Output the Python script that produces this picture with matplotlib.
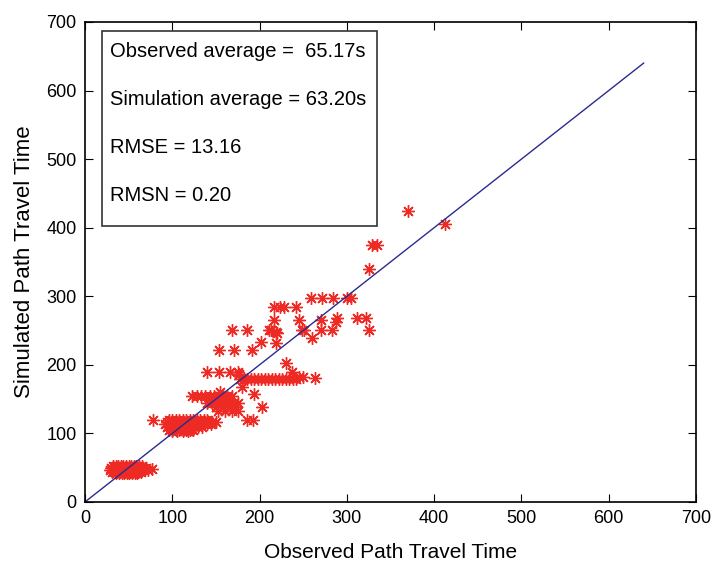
import matplotlib
matplotlib.use('Agg')
import matplotlib.pyplot as plt
from matplotlib.patches import Rectangle

plt.rcParams['font.family'] = ['Liberation Sans', 'DejaVu Sans']

# observed vs simulated path travel times (s)
obs_a = [32, 35, 38, 41, 44, 47, 50, 53, 56, 59, 62, 65,
         30, 34, 37, 40, 43, 46, 49, 52, 55, 58, 61, 64, 67, 70,
         29, 32, 35, 38, 41, 44, 47, 50, 53, 56, 59, 62, 65, 68, 72,
         31, 34, 37, 40, 43, 46, 49, 52, 55, 58, 61, 64,
         35, 39, 42, 45, 48, 51, 54, 57, 60, 77]
sim_a = [52, 52, 52, 52, 52, 52, 52, 52, 52, 52, 52, 52,
         50, 50, 50, 50, 50, 50, 50, 50, 50, 50, 50, 50, 50, 50,
         47, 47, 47, 47, 47, 47, 47, 47, 47, 47, 47, 47, 47, 47, 47,
         44, 44, 44, 44, 44, 44, 44, 44, 44, 44, 44, 44,
         42, 42, 42, 42, 42, 42, 42, 42, 42, 48]

obs_b = [78, 96, 100, 104, 108, 112, 116, 120, 124, 128, 132, 136, 140, 186, 192,
         94, 98, 102, 106, 110, 114, 118, 122, 126, 130, 134, 138, 142, 146, 150,
         92, 96, 100, 104, 108, 112, 116, 120, 124, 128, 132, 136, 140, 144,
         94, 98, 102, 106, 110, 114, 118, 122, 126, 130, 134,
         96, 100, 104, 108, 112, 116, 120, 124, 100, 106, 112, 118]
sim_b = [120, 120, 120, 120, 120, 120, 120, 120, 120, 120, 120, 120, 120, 120, 120,
         117, 117, 117, 117, 117, 117, 117, 117, 117, 117, 117, 117, 117, 117, 117,
         113, 113, 113, 113, 113, 113, 113, 113, 113, 113, 113, 113, 113, 113,
         109, 109, 109, 109, 109, 109, 109, 109, 109, 109, 109,
         105, 105, 105, 105, 105, 105, 105, 105, 103, 103, 103, 103]

obs_c = [123, 128, 133, 138, 143, 148, 153, 158, 163, 168, 155,
         140, 146, 150, 155, 160, 165, 170, 175, 150, 158, 166, 172,
         152, 160, 168, 175, 180, 194, 203]
sim_c = [155, 155, 155, 155, 155, 155, 155, 155, 155, 155, 160,
         145, 145, 145, 145, 145, 145, 145, 145, 138, 138, 138, 138,
         132, 132, 132, 132, 168, 158, 138]

obs_d = [140, 154, 166, 175, 177,
         178, 182, 186, 190, 194, 198, 202, 206, 210, 214, 218, 222, 226,
         230, 234, 238, 242, 230, 237, 245, 250, 263]
sim_d = [190, 190, 190, 190, 186,
         180, 180, 180, 180, 180, 180, 180, 180, 180, 180, 180, 180, 180,
         180, 180, 180, 180, 203, 190, 182, 182, 181]

obs_e = [154, 171, 191, 202, 219, 168, 186, 211, 220, 217,
         245, 251, 260, 270, 270, 283, 288, 217, 223, 228, 242,
         259, 271, 284, 300, 305, 213, 219, 249, 289, 312, 322, 325,
         325, 329, 334, 370, 413]
sim_e = [222, 222, 222, 233, 232, 251, 251, 251, 246, 265,
         265, 251, 239, 265, 251, 251, 262, 284, 284, 284, 284,
         297, 297, 297, 297, 297, 251, 248, 251, 268, 268, 268, 251,
         340, 375, 375, 425, 405]

observed = obs_a + obs_b + obs_c + obs_d + obs_e
simulated = sim_a + sim_b + sim_c + sim_d + sim_e

diag = [0, 640]
stats = ['Observed average =  65.17s', 'Simulation average = 63.20s',
         'RMSE = 13.16', 'RMSN = 0.20']

fig = plt.figure(figsize=(7.11, 5.62), dpi=100)
ax = fig.add_axes([0.1195, 0.1068, 0.8594, 0.8541])

ax.plot(observed, simulated, linestyle='none', marker=(8, 2, 0),
        markersize=9, markeredgewidth=1.0, color='#ee2a24')
ax.plot(diag, diag, color='#2b2b8f', linewidth=1.0)

ax.set_xlim(0, 700)
ax.set_ylim(0, 700)
ax.set_xticks(range(0, 701, 100))
ax.set_yticks(range(0, 701, 100))
ax.tick_params(direction='in', top=True, right=True, labelsize=13, length=6, pad=6)
for s in ax.spines.values():
    s.set_linewidth(1.2)

ax.set_xlabel('Observed Path Travel Time', fontsize=15, labelpad=11)
ax.set_ylabel('Simulated Path Travel Time', fontsize=16, labelpad=8)

ax.add_patch(Rectangle((0.028, 0.575), 0.450, 0.406, transform=ax.transAxes,
                       fill=True, facecolor='white', edgecolor='#333333',
                       linewidth=1.2, zorder=5))
for i, t in enumerate(stats):
    ax.text(0.041, 0.938 - i * 0.0995, t, transform=ax.transAxes,
            fontsize=14.5, va='center', ha='left', zorder=6)

fig.savefig('out.png', dpi=100)
